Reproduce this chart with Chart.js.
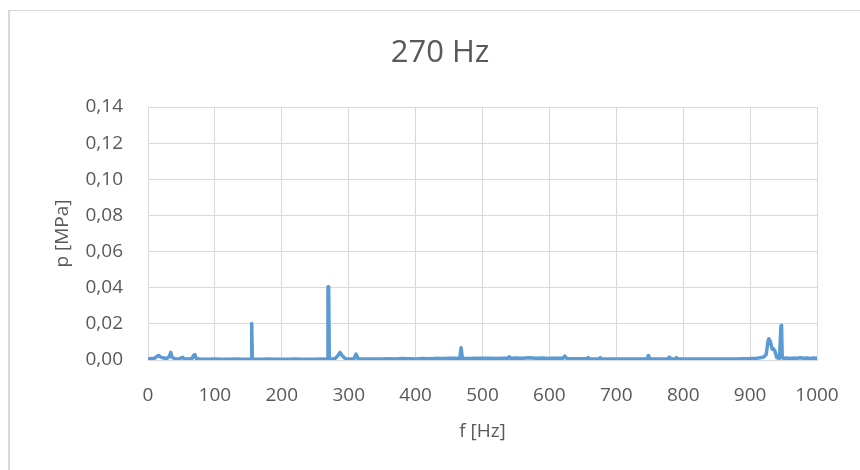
<!DOCTYPE html>
<html>
<head>
<meta charset="utf-8">
<script src="https://cdn.jsdelivr.net/npm/chart.js@4.4.1/dist/chart.umd.min.js"></script>
<style>
  html, body { margin: 0; padding: 0; background: #fff; }
  #wrap { width: 860px; height: 470px; position: relative; }
</style>
</head>
<body>
<div id="wrap"><canvas id="grafico"></canvas></div>
<script>
// datos (f en Hz, p en MPa)
const frecuencias = [
  0, 5, 10, 14, 16, 18, 22, 28, 32, 34, 36, 40, 46, 50, 52, 54, 60, 66, 68, 70, 72, 80,
  90, 100, 110, 120, 130, 140, 150, 154, 155, 156, 160, 170, 180, 190, 200, 210, 220, 230,
  240, 250, 260, 268, 269, 270, 271, 275, 280, 284, 287, 290, 295, 300, 308, 311, 314, 320,
  330, 340, 350, 360, 370, 380, 390, 400, 410, 420, 430, 440, 450, 460, 466, 468, 470, 475,
  480, 490, 500, 510, 520, 530, 538, 540, 542, 550, 560, 570, 580, 590, 600, 610, 620, 623,
  626, 640, 656, 658, 660, 674, 676, 678, 690, 700, 710, 720, 730, 740, 746, 748, 750, 760,
  770, 778, 779, 780, 789, 790, 791, 800, 810, 820, 830, 840, 850, 860, 870, 880, 890, 900,
  910, 915, 920, 924, 927, 928, 930, 933, 935, 937, 940, 944, 946, 947, 948, 950, 955, 960,
  965, 970, 975, 980, 985, 990, 995, 1000
];
const presiones = [
  0.0005, 0.0008, 0.0010, 0.0022, 0.0025, 0.0018, 0.0012, 0.0008, 0.0020, 0.0042, 0.0015, 0.0007, 0.0006, 0.0012, 0.0015, 0.0006, 0.0005, 0.0008, 0.0025, 0.0030, 0.0009, 0.0004,
  0.0004, 0.0005, 0.0004, 0.0004, 0.0005, 0.0004, 0.0004, 0.0004, 0.0202, 0.0004, 0.0004, 0.0004, 0.0005, 0.0004, 0.0004, 0.0004, 0.0005, 0.0004,
  0.0004, 0.0004, 0.0005, 0.0004, 0.0405, 0.0405, 0.0005, 0.0006, 0.0009, 0.0025, 0.0042, 0.0025, 0.0007, 0.0005, 0.0006, 0.0033, 0.0006, 0.0005,
  0.0006, 0.0005, 0.0006, 0.0007, 0.0006, 0.0008, 0.0007, 0.0006, 0.0008, 0.0007, 0.0009, 0.0008, 0.0009, 0.0010, 0.0008, 0.0068, 0.0007, 0.0009,
  0.0008, 0.0010, 0.0009, 0.0010, 0.0008, 0.0010, 0.0010, 0.0018, 0.0010, 0.0011, 0.0010, 0.0012, 0.0010, 0.0011, 0.0009, 0.0010, 0.0009, 0.0022,
  0.0008, 0.0007, 0.0007, 0.0014, 0.0007, 0.0006, 0.0013, 0.0006, 0.0006, 0.0006, 0.0005, 0.0006, 0.0005, 0.0006, 0.0006, 0.0025, 0.0006, 0.0005,
  0.0006, 0.0006, 0.0015, 0.0006, 0.0006, 0.0013, 0.0006, 0.0005, 0.0005, 0.0005, 0.0005, 0.0005, 0.0005, 0.0006, 0.0006, 0.0006, 0.0007, 0.0008,
  0.0010, 0.0012, 0.0016, 0.0030, 0.0110, 0.0118, 0.0105, 0.0060, 0.0062, 0.0050, 0.0012, 0.0010, 0.0185, 0.0192, 0.0012, 0.0010, 0.0011, 0.0009,
  0.0011, 0.0010, 0.0012, 0.0010, 0.0011, 0.0009, 0.0011, 0.0010
];
const ticksX = [0, 100, 200, 300, 400, 500, 600, 700, 800, 900, 1000];
const ticksY = [0, 0.02, 0.04, 0.06, 0.08, 0.10, 0.12, 0.14];
const titulo = '270 Hz';

const FUENTE = "'Open Sans', 'Noto Sans', sans-serif";
const GRIS_TEXTO = '#595959';
const GRIS_LINEA = '#D9D9D9';

// fondo blanco, marco y titulo centrado en todo el lienzo
const marco = {
    id: 'marco',
    beforeDraw(chart) {
        const c = chart.ctx;
        c.save();
        c.fillStyle = '#ffffff';
        c.fillRect(0, 0, chart.width, chart.height);
        c.fillStyle = GRIS_LINEA;
        c.fillRect(8, 10, 2, chart.height - 10);
        c.fillRect(8, 10, chart.width - 8, 1);
        c.fillStyle = GRIS_TEXTO;
        c.font = '31px ' + FUENTE;
        c.textAlign = 'center';
        c.textBaseline = 'middle';
        c.fillText(titulo, 440, 53);
        c.restore();
    }
};

const puntos = frecuencias.map((f, i) => ({ x: f, y: presiones[i] }));

new Chart(document.getElementById('grafico'), {
    type: 'line',
    data: {
        datasets: [{
            data: puntos,
            borderColor: '#5B9BD5',
            borderWidth: 3.5,
            borderCapStyle: 'round',
            borderJoinStyle: 'round',
            pointRadius: 0,
            tension: 0,
            fill: false
        }]
    },
    options: {
        responsive: true,
        maintainAspectRatio: false,
        animation: false,
        layout: { padding: { left: 0, right: 43, top: 107, bottom: 0 } },
        plugins: {
            legend: { display: false },
            tooltip: { enabled: false },
            title: { display: false }
        },
        scales: {
            x: {
                type: 'linear',
                min: 0,
                max: 1000,
                afterBuildTicks: (s) => { s.ticks = ticksX.map(v => ({ value: v })); },
                afterFit: (s) => { s.height = 110; s.paddingLeft = 0; s.paddingRight = 0; },
                grid: { color: GRIS_LINEA, drawTicks: false },
                border: { color: GRIS_LINEA },
                ticks: {
                    color: GRIS_TEXTO,
                    font: { family: FUENTE, size: 19 },
                    padding: 24,
                    maxRotation: 0,
                    callback: (v) => String(v)
                },
                title: {
                    display: true,
                    text: 'f [Hz]',
                    color: GRIS_TEXTO,
                    font: { family: FUENTE, size: 19 },
                    padding: { top: 0, bottom: 27 }
                }
            },
            y: {
                min: 0,
                max: 0.14,
                afterBuildTicks: (s) => { s.ticks = ticksY.map(v => ({ value: v })); },
                afterFit: (s) => { s.width = 148; },
                grid: { color: GRIS_LINEA, drawTicks: false },
                border: { color: GRIS_LINEA },
                ticks: {
                    color: GRIS_TEXTO,
                    font: { family: FUENTE, size: 19 },
                    padding: 25,
                    callback: (v) => v.toFixed(2).replace('.', ',')
                },
                title: {
                    display: true,
                    text: 'p [MPa]',
                    color: GRIS_TEXTO,
                    font: { family: FUENTE, size: 19 },
                    padding: { top: 51, bottom: 0 }
                }
            }
        }
    },
    plugins: [marco]
});
</script>
</body>
</html>
